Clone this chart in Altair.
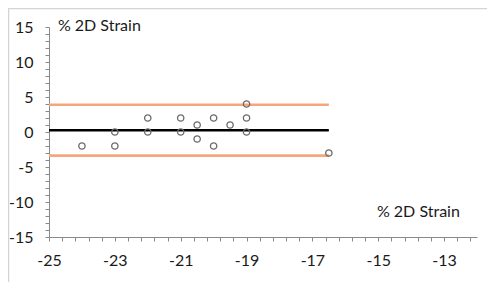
import altair as alt
import pandas as pd

# Data
point_x = [-24, -23, -23, -22, -22, -21, -21, -20.5, -20.5, -20, -20, -19.5, -19, -19, -19, -16.5]
point_y = [-2, 0, -2, 2, 0, 2, 0, 1, -1, 2, -2, 1, 4, 2, 0, -3]

line_names = ["upper", "mean", "lower"]
line_y = [3.9, 0.25, -3.38]
line_x_start = [-25, -25, -25]
line_x_end = [-16.5, -16.5, -16.5]
line_colors = ["#F5A67C", "#000000", "#F5A67C"]

x_tick_values = [round(-25 + 0.4 * k, 1) for k in range(33)]
y_tick_values = list(range(-15, 16))

text_labels = ["% 2D Strain", "% 2D Strain"]
text_x = [-24.73, -15.04]
text_y = [15.2, -11.36]

W, H = 428, 210
FONT = "Lato"

points = pd.DataFrame({"x": point_x, "y": point_y})
lines = pd.DataFrame({"name": line_names, "y": line_y, "x": line_x_start,
                      "x2": line_x_end, "color": line_colors})
texts = pd.DataFrame({"t": text_labels, "x": text_x, "y": text_y})

x_scale = alt.Scale(domain=[-25, -12], nice=False, zero=False)
y_scale = alt.Scale(domain=[-15, 15], nice=False, zero=False)

x_axis = alt.Axis(
    values=x_tick_values, grid=False, labelFlush=False, labelOverlap=False,
    labelExpr="(abs(datum.value) % 2 > 0.99 && abs(datum.value) % 2 < 1.01) ? ((datum.value < 0 ? '-' : '') + format(abs(datum.value), 'd')) : ''",
    tickSize=4, labelPadding=11, domainColor="#8a8a8a", tickColor="#8a8a8a",
    labelFont=FONT, labelFontSize=16, labelColor="#1a1a1a",
)
y_axis = alt.Axis(
    values=y_tick_values, grid=False, labelOverlap=False, labelFlush=False,
    labelExpr="datum.value % 5 == 0 ? ((datum.value < 0 ? '-' : '') + format(abs(datum.value), 'd')) : ''",
    tickSize=4, labelPadding=12, domainColor="#8a8a8a", tickColor="#8a8a8a",
    labelFont=FONT, labelFontSize=16, labelColor="#1a1a1a",
)

X = lambda f: alt.X(f, scale=x_scale, axis=x_axis, title=None)
Y = lambda f: alt.Y(f, scale=y_scale, axis=y_axis, title=None)

frame = alt.Chart(pd.DataFrame({"k": [0]})).mark_rect(
    fill="transparent", stroke="#d4d4d4", strokeWidth=1.5
).encode(
    x=alt.value(-40.5), x2=alt.value(W + 30), y=alt.value(-18.5), y2=alt.value(H + 54.5)
)

rules = alt.Chart(lines).mark_rule(strokeWidth=2.6).encode(
    x=X("x:Q"),
    x2="x2:Q",
    y=Y("y:Q"),
    color=alt.Color("color:N", scale=None),
)

pts = alt.Chart(points).mark_point(
    shape="circle", filled=False, color="#6a6a6a", size=40, strokeWidth=1.3, opacity=1
).encode(
    x=X("x:Q"),
    y=Y("y:Q"),
)

txt = alt.Chart(texts).mark_text(
    align="left", baseline="middle", font=FONT, fontSize=16, color="#1a1a1a"
).encode(
    x=X("x:Q"),
    y=Y("y:Q"),
    text="t:N",
)

chart = alt.layer(frame, rules, pts, txt).properties(
    width=W, height=H,
    autosize=alt.AutoSizeParams(type="none"),
    padding={"left": 41, "top": 19, "right": 10, "bottom": 45},
).configure_view(stroke=None)

chart.save("out.html", embed_options={"renderer": "svg", "actions": False})
